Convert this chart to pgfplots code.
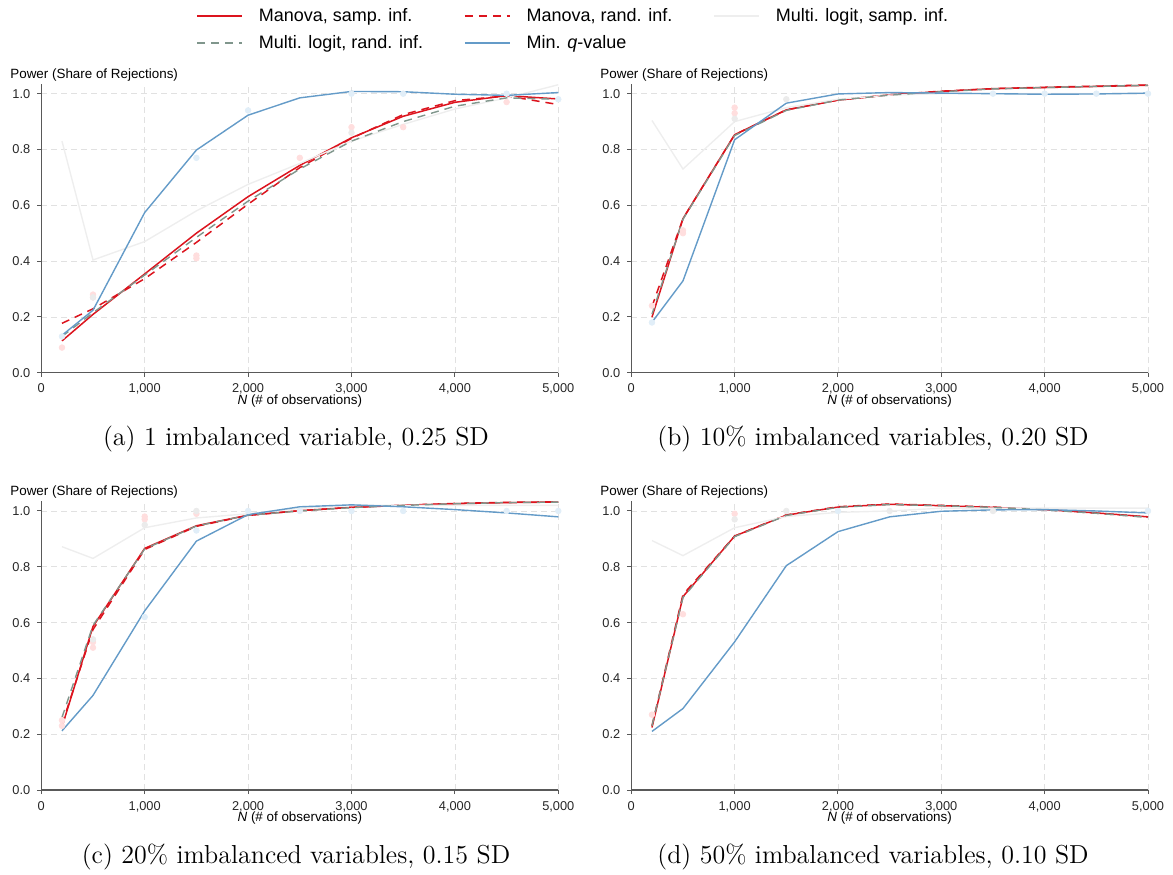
\documentclass[border=0pt]{standalone}
\usepackage{pgfplots}
\usepackage{pgfplotstable}
\pgfplotsset{compat=1.18}
\usepackage{fontspec}
\newfontfamily\arial{Liberation Sans}

\definecolor{manred}{RGB}{220,20,30}
\definecolor{logitgray}{RGB}{128,150,140}
\definecolor{minqblue}{RGB}{100,155,200}
\definecolor{logitfaint}{RGB}{238,238,238}
\definecolor{ptpink}{RGB}{255,222,222}
\definecolor{ptblue}{RGB}{225,238,248}
\definecolor{ptgray}{RGB}{235,235,235}
\definecolor{gridc}{RGB}{225,225,225}

\pgfplotstableread{
N    ms    mr    ls    lr    mq
200  0.114 0.177 0.83  0.13  0.134
500  0.209 0.229 0.404 0.215 0.224
1000 0.354 0.337 0.47  0.35  0.574
1500 0.500 0.467 0.58  0.485 0.798
2000 0.631 0.604 0.675 0.615 0.923
2500 0.743 0.735 0.75  0.73  0.985
3000 0.842 0.840 0.83  0.83  1.008
3500 0.919 0.925 0.89  0.90  1.007
4000 0.969 0.975 0.945 0.955 0.998
4500 0.993 0.992 0.985 0.985 0.994
5000 0.981 0.961 1.032 0.98  1.004
}\tabA
\pgfplotstableread{
N    ms    mr    ls    lr    mq
200  0.199 0.237 0.904 0.21  0.181
500  0.552 0.552 0.73  0.55  0.329
1000 0.853 0.853 0.90  0.85  0.835
1500 0.942 0.942 0.95  0.94  0.966
2000 0.977 0.977 0.98  0.977 0.999
2500 0.996 0.996 0.995 0.995 1.004
3000 1.008 1.009 1.0   1.007 1.002
3500 1.018 1.018 1.0   1.017 1.000
4000 1.022 1.023 1.0   1.022 0.998
4500 1.026 1.027 1.0   1.026 0.999
5000 1.030 1.031 1.0   1.030 1.002
}\tabB
\pgfplotstableread{
N    ms    mr    ls    lr    mq
200  0.226 0.235 0.872 0.26  0.212
500  0.586 0.575 0.83  0.59  0.339
1000 0.866 0.862 0.94  0.864 0.642
1500 0.947 0.945 0.975 0.946 0.892
2000 0.985 0.984 0.99  0.985 0.987
2500 1.001 1.001 1.01  1.000 1.015
3000 1.013 1.013 1.02  1.012 1.022
3500 1.020 1.021 1.02  1.020 1.015
4000 1.026 1.027 1.02  1.026 1.005
4500 1.030 1.031 1.02  1.030 0.993
5000 1.032 1.033 1.02  1.032 0.979
}\tabC
\pgfplotstableread{
N    ms    mr    ls    lr    mq
200  0.224 0.23  0.894 0.23  0.21
500  0.693 0.70  0.84  0.69  0.292
1000 0.910 0.91  0.94  0.908 0.531
1500 0.985 0.986 0.98  0.984 0.804
2000 1.014 1.015 0.995 1.013 0.926
2500 1.024 1.025 1.0   1.023 0.979
3000 1.019 1.020 1.01  1.019 0.999
3500 1.013 1.014 1.01  1.013 1.004
4000 1.005 1.005 1.01  1.004 1.005
4500 0.993 0.992 1.01  0.992 1.000
5000 0.979 0.978 1.01  0.977 0.993
}\tabD

\pgfplotsset{
  panel/.style={
    scale only axis, width=258.5pt, height=144.4pt,
    xmin=0, xmax=5000, ymin=0, ymax=1.035,
    axis x line*=bottom, axis y line*=left,
    axis line style={black!65, line width=0.6pt},
    xtick={0,1000,2000,3000,4000,5000},
    ytick={0,0.2,0.4,0.6,0.8,1.0},
    scaled x ticks=false, scaled y ticks=false,
    xticklabel style={/pgf/number format/.cd, 1000 sep={,}},
    yticklabel style={/pgf/number format/.cd, fixed, fixed zerofill, precision=1},
    /pgf/number format/assume math mode=true,
    tick label style={font=\arial\fontsize{6.4}{7.5}\selectfont, text=black!85},
    tick align=outside, major tick length=2pt,
    tick style={black!65, line width=0.5pt},
    grid=major,
    major grid style={gridc, dash pattern=on 3pt off 2pt, line width=0.4pt},
    xlabel={\textit{N} (\# of observations)},
    xlabel style={font=\arial\fontsize{6.7}{8}\selectfont, at={(axis description cs:0.5,-0.098)}, anchor=center},
    clip=false,
  },
  stMS/.style={draw=manred, color=manred, line width=0.75pt},
  stMR/.style={draw=manred, color=manred, line width=0.75pt, dash pattern=on 4pt off 3pt},
  stLS/.style={draw=logitfaint, color=logitfaint, line width=0.7pt},
  stLR/.style={draw=logitgray, color=logitgray, line width=0.7pt, dash pattern=on 4pt off 3pt},
  stMQ/.style={draw=minqblue, color=minqblue, line width=0.7pt},
  stPK/.style={only marks, mark=*, mark size=1.4pt, color=ptpink, forget plot},
  stPB/.style={only marks, mark=*, mark size=1.4pt, color=ptblue, forget plot},
  stPG/.style={only marks, mark=*, mark size=1.4pt, color=ptgray, forget plot},
}
\newcommand{\powerlabel}{\node[anchor=west, inner sep=0pt, font=\arial\fontsize{6.7}{8}\selectfont] at (axis description cs:-0.0605,1.031) {Power (Share of Rejections)};}

\begin{document}
\begin{tikzpicture}
\useasboundingbox (0pt,0pt) rectangle (586.5pt,-437pt);

% (a)
\begin{axis}[panel, at={(20.65pt,-186.35pt)}, anchor=south west,
  legend columns=3,
  legend cell align=left,
  legend style={at={(axis description cs:0.299,1.278)}, anchor=north west, draw=none, fill=none,
    font=\arial\fontsize{9}{11}\selectfont, inner sep=0pt, row sep=1.5pt,
    /tikz/every odd column/.append style={column sep=6pt},
    /tikz/every even column/.append style={column sep=18.5pt}},
  legend image code/.code={\draw[#1] (0pt,0pt) -- (22.5pt,0pt);},
]
\addlegendimage{stMS}
\addlegendimage{stMR}
\addlegendimage{stLS}
\addlegendimage{stLR}
\addlegendimage{stMQ}
\legend{{Manova, samp. inf.},{Manova, rand. inf.},{Multi. logit, samp. inf.},{Multi. logit, rand. inf.},{Min. \textit{q}-value}}
\addplot[stPK] coordinates {(200,0.09) (500,0.28) (500,0.27) (1500,0.41) (1500,0.42) (2500,0.77) (3000,0.88) (3500,0.88) (4500,0.97)};
\addplot[stPG] coordinates {(3000,0.86) (500,0.27)};
\addplot[stPB] coordinates {(200,0.13) (1500,0.77) (2000,0.94) (3000,1.0) (3500,1.0) (4500,1.0) (5000,0.98)};
\addplot[stMS] table[x=N,y=ms] {\tabA};
\addplot[stMR] table[x=N,y=mr] {\tabA};
\addplot[stLS] table[x=N,y=ls] {\tabA};
\addplot[stLR] table[x=N,y=lr] {\tabA};
\addplot[stMQ] table[x=N,y=mq] {\tabA};
\powerlabel
\end{axis}

% (b)
\begin{axis}[panel, at={(315.65pt,-186.35pt)}, anchor=south west, width=258.35pt]
\addplot[stPK] coordinates {(1000,0.95) (1000,0.93) (500,0.50) (500,0.51) (200,0.24)};
\addplot[stPG] coordinates {(1000,0.91) (1500,0.98)};
\addplot[stPB] coordinates {(200,0.18) (3500,1.0) (4000,1.0) (4500,1.0) (5000,1.0)};
\addplot[stMS] table[x=N,y=ms] {\tabB};
\addplot[stMR] table[x=N,y=mr] {\tabB};
\addplot[stLS] table[x=N,y=ls] {\tabB};
\addplot[stLR] table[x=N,y=lr] {\tabB};
\addplot[stMQ] table[x=N,y=mq] {\tabB};
\powerlabel
\end{axis}

% (c)
\begin{axis}[panel, at={(20.65pt,-395pt)}, anchor=south west]
\addplot[stPK] coordinates {(1000,0.98) (1000,0.97) (1500,0.99) (500,0.53) (500,0.51) (200,0.25) (200,0.23)};
\addplot[stPG] coordinates {(500,0.54) (1000,0.95) (1500,1.0)};
\addplot[stPB] coordinates {(1500,0.93) (1000,0.62) (2000,1.0) (2500,1.0) (3000,1.0) (3500,1.0) (4500,1.0) (5000,1.0)};
\addplot[stMS] table[x=N,y=ms] {\tabC};
\addplot[stMR] table[x=N,y=mr] {\tabC};
\addplot[stLS] table[x=N,y=ls] {\tabC};
\addplot[stLR] table[x=N,y=lr] {\tabC};
\addplot[stMQ] table[x=N,y=mq] {\tabC};
\powerlabel
\end{axis}

% (d)
\begin{axis}[panel, at={(315.65pt,-395pt)}, anchor=south west, width=258.35pt]
\addplot[stPK] coordinates {(1000,0.99) (500,0.63) (200,0.27)};
\addplot[stPG] coordinates {(1000,0.97) (1500,1.0) (2500,1.0) (3500,1.0)};
\addplot[stPB] coordinates {(2000,1.0) (5000,1.0)};
\addplot[stMS] table[x=N,y=ms] {\tabD};
\addplot[stMR] table[x=N,y=mr] {\tabD};
\addplot[stLS] table[x=N,y=ls] {\tabD};
\addplot[stLR] table[x=N,y=lr] {\tabD};
\addplot[stMQ] table[x=N,y=mq] {\tabD};
\powerlabel
\end{axis}

\node[anchor=base, font=\fontsize{13}{15}\selectfont] at (148pt,-222.5pt) {(a)~1 imbalanced variable, 0.25 SD};
\node[anchor=base, font=\fontsize{13}{15}\selectfont] at (436.5pt,-222.5pt) {(b)~10\% imbalanced variables, 0.20 SD};
\node[anchor=base, font=\fontsize{13}{15}\selectfont] at (148pt,-431.5pt) {(c)~20\% imbalanced variables, 0.15 SD};
\node[anchor=base, font=\fontsize{13}{15}\selectfont] at (436.5pt,-431.5pt) {(d)~50\% imbalanced variables, 0.10 SD};
\end{tikzpicture}
\end{document}
